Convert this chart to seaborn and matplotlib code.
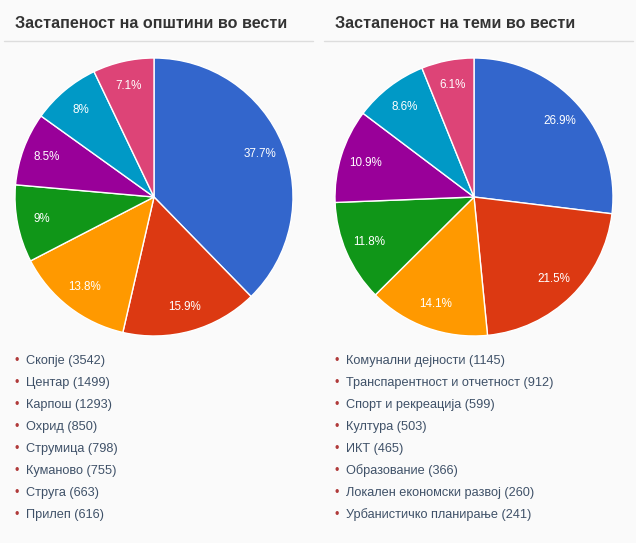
import matplotlib
matplotlib.use("Agg")
from matplotlib import pyplot as plt
import seaborn as sns

# podaci
titles = ["Застапеност на општини во вести", "Застапеност на теми во вести"]

pct_opstini = [37.7, 15.9, 13.8, 9, 8.5, 8, 7.1]
pct_temi = [26.9, 21.5, 14.1, 11.8, 10.9, 8.6, 6.1]

opstini = ["Скопје", "Центар", "Карпош", "Охрид", "Струмица", "Куманово", "Струга", "Прилеп"]
opstini_n = [3542, 1499, 1293, 850, 798, 755, 663, 616]

temi = ["Комунални дејности", "Транспарентност и отчетност", "Спорт и рекреација",
        "Култура", "ИКТ", "Образование", "Локален економски развој", "Урбанистичко планирање"]
temi_n = [1145, 912, 599, 503, 465, 366, 260, 241]

boje = ["#3366cc", "#dc3912", "#ff9900", "#109618", "#990099", "#0099c6", "#dd4477"]

sns.set_style("white")
plt.rcParams['font.family'] = ['Liberation Sans', 'DejaVu Sans']

W, H = 636, 543
bg = "#fafafa"
fig = plt.figure(figsize=(W / 100, H / 100), dpi=100, facecolor=bg)


def px(x, y):
    return x / W, 1 - y / H


def panel(x0, title, pcts, names, counts):
    # naslov + linija
    fig.text(*px(x0 + 15, 28), title, fontsize=11.6, fontweight="bold",
             color="#333333", ha="left", va="baseline")
    fig.add_artist(plt.Line2D([(x0 + 4) / W, (x0 + 313) / W], [1 - 41 / H] * 2,
                              color="#dddddd", lw=1))

    # pita
    cx, cy, r = x0 + 154, 197, 139
    ax = fig.add_axes([(cx - r) / W, (H - cy - r) / H, 2 * r / W, 2 * r / H])
    ax.set_facecolor(bg)
    labels = [f"{v:g}%" for v in pcts]
    wedges, texts = ax.pie(pcts, colors=sns.color_palette(boje), startangle=90,
                           counterclock=False, labels=labels, labeldistance=0.82,
                           wedgeprops=dict(edgecolor="white", linewidth=1),
                           textprops=dict(color="white", fontsize=8.4))
    for t in texts:
        t.set_ha("center")
        t.set_va("center")
    ax.set_xlim(-1, 1)
    ax.set_ylim(-1, 1)
    ax.axis("off")

    # legenda
    for i, (n, c) in enumerate(zip(names, counts)):
        y = 361 + i * 22
        fig.text(*px(x0 + 17, y), "•", fontsize=9, color="#b03a3a", ha="center", va="center")
        fig.text(*px(x0 + 26, y), f"{n} ({c})", fontsize=9.2, color="#3f5168",
                 ha="left", va="center")


panel(0, titles[0], pct_opstini, opstini, opstini_n)
panel(320, titles[1], pct_temi, temi, temi_n)

plt.savefig("out.png", dpi=100, facecolor=bg)
